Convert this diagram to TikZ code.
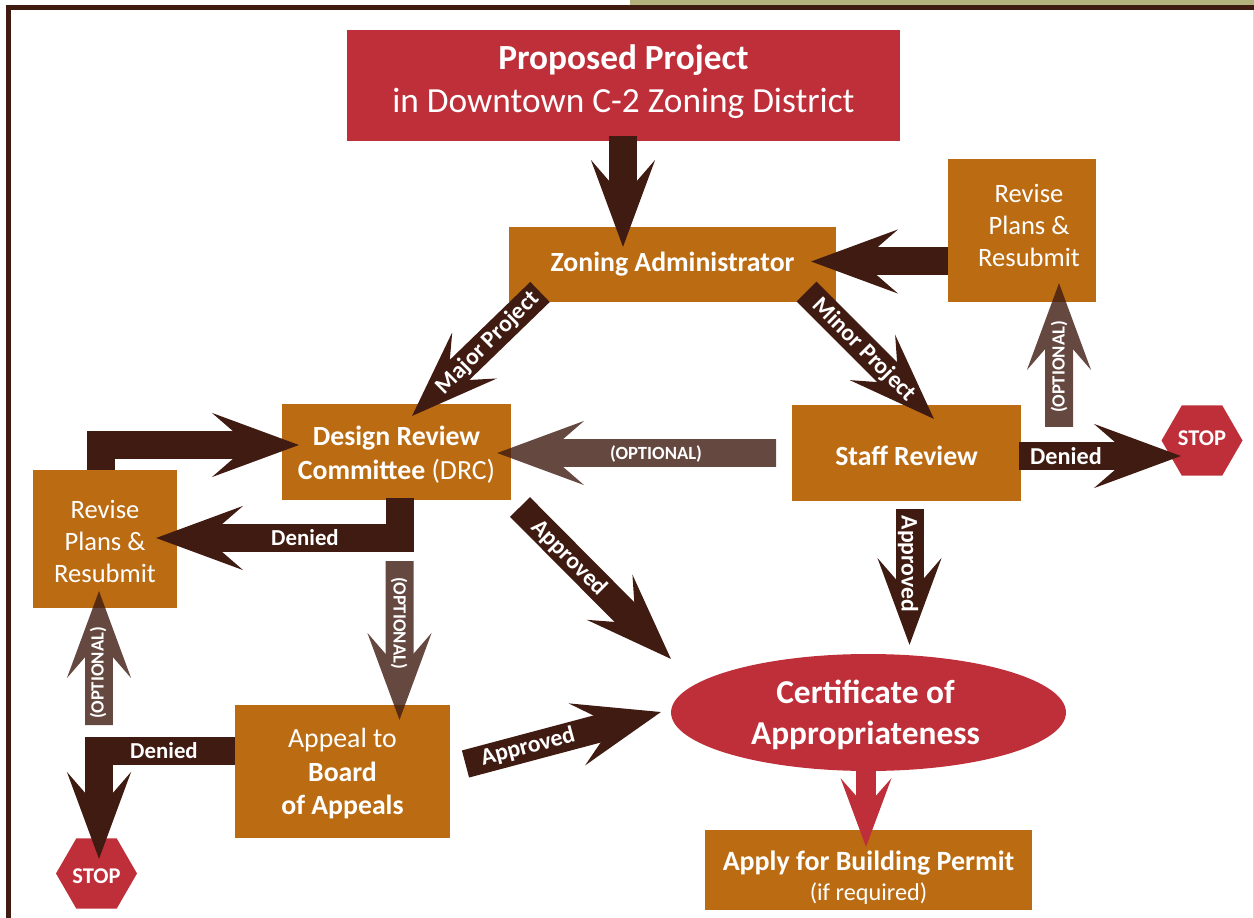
\documentclass[tikz,border=0pt]{standalone}
\usepackage{fontspec}
\setmainfont{Carlito}
\usetikzlibrary{arrows.meta,shapes.geometric}
\definecolor{boxbrown}{HTML}{BB6C13}
\definecolor{stopred}{HTML}{BF2F3A}
\definecolor{arrowdark}{HTML}{3F1B12}
\definecolor{bandolive}{HTML}{B3B37D}
% struts that push the text of a box up or down
\newcommand{\pushdown}[1]{\rule{0pt}{#1}}
\newcommand{\pushup}[1]{\rule[-#1]{0pt}{#1}}
\tikzset{
  box/.style={fill=boxbrown,text=white,align=center,inner sep=0pt,font=\fontsize{15.8}{18.6}\selectfont},
  redbox/.style={box,fill=stopred},
  stopsign/.style={regular polygon,regular polygon sides=6,minimum size=1.62cm,inner sep=0pt,fill=stopred,text=white,font=\fontsize{12.8}{15}\selectfont\bfseries},
  fatarrow/.style={arrowdark,line width=0.56cm,-{Stealth[length=1.72cm,width=1.26cm,inset=0.72cm]}},
  redarrow/.style={stopred,line width=0.4cm,-{Stealth[length=1.36cm,width=1cm,inset=0.56cm]}},
  lbl/.style={text=white,inner sep=0pt,font=\fontsize{13.5}{15}\selectfont\bfseries},
  optlbl/.style={lbl,font=\fontsize{10.6}{12}\selectfont\bfseries},
}
\begin{document}
\begin{tikzpicture}[x=0.02cm,y=-0.02cm]
\useasboundingbox (0,0) rectangle (1254,918);
% frame
\fill [bandolive] (630,0) rectangle (1254,5);
\fill [arrowdark] (6,5) rectangle (1254,10);
\fill [arrowdark] (6,5) rectangle (11,918);
\fill [black!15] (1253,10) rectangle (1254,918);
% boxes
\node [redbox,minimum width=11.08cm,minimum height=2.22cm,font=\fontsize{20.1}{24.4}\selectfont] (proposed) at (623.5,85.5) {\textbf{Proposed Project}\\in Downtown C-2 Zoning District\pushup{8pt}};
\node [box,minimum width=6.54cm,minimum height=1.5cm] (zoning) at (672.5,264.5) {\textbf{Zoning Administrator}};
\node [box,minimum width=2.96cm,minimum height=2.86cm,font=\fontsize{15.1}{18.2}\selectfont] (reviseR) at (1022,230.5) {\hspace*{.28cm}Revise\\\hspace*{.28cm}Plans \&\\\hspace*{.28cm}Resubmit\pushup{5.7pt}};
\node [box,minimum width=4.58cm,minimum height=1.92cm] (staff) at (906.5,453) {\pushdown{14.6pt}\textbf{Staff Review}};
\node [box,minimum width=4.58cm,minimum height=1.92cm,font=\fontsize{15.8}{19.3}\selectfont] (drc) at (396.5,452) {\pushdown{13.7pt}\textbf{Design Review}\\\textbf{Committee} (DRC)};
\node [box,minimum width=2.88cm,minimum height=2.76cm,font=\fontsize{15.1}{18.2}\selectfont] (reviseL) at (105,539) {\pushdown{13.2pt}Revise\\Plans \&\\Resubmit};
\node [box,minimum width=4.3cm,minimum height=2.66cm,font=\fontsize{15.8}{19}\selectfont] (appeal) at (342.5,771.5) {\pushdown{13.7pt}Appeal to\\\textbf{Board}\\\textbf{of Appeals}};
\node [box,minimum width=6.54cm,minimum height=1.6cm,font=\fontsize{15.9}{17}\selectfont] (permit) at (868.5,870) {\pushdown{19.5pt}\textbf{Apply for Building Permit}\\{\fontsize{13.8}{17}\selectfont (if required)}};
\node [ellipse,fill=stopred,text=white,align=center,inner sep=0pt,minimum width=7.9cm,minimum height=2.34cm,font=\fontsize{19}{23.2}\selectfont\bfseries] (cert) at (868.5,712.5) {\pushdown{16pt}Certificate of\hspace*{.12cm}\\Appropriateness\hspace*{.12cm}};
\node [stopsign] (stopR) at (1202,440.5) {STOP\pushup{2.3pt}};
\node [stopsign] (stopL) at (96.5,873.5) {\pushdown{11.6pt}STOP};
% arrow ends
\coordinate (tipZoningTop) at (623,247);
\coordinate (tipZoningRight) at (811,261.5);
\coordinate (tipDrcLeft) at (299,445);
\coordinate (tipDrcRight) at (497,453);
\coordinate (tipReviseL) at (156,538);
\coordinate (tipReviseLup) at (99,591);
\coordinate (tipReviseRup) at (1059,283);
\coordinate (tipMajor) at (412,416);
\coordinate (tipMinor) at (934,419);
\coordinate (tipStopR) at (1181,456);
\coordinate (tipStopL) at (99,859);
\coordinate (tipAppeal) at (399.5,720);
\coordinate (tipCertDrc) at (671,659);
\coordinate (tipCertStaff) at (909.5,645);
\coordinate (tipCertAppeal) at (661,712);
\coordinate (tipPermit) at (866,847);
\coordinate (startMajor) at (540,292);
\coordinate (startMinor) at (806.5,291.5);
\coordinate (startOptStaff) at (776,453);
\coordinate (startOptReviseR) at (1059,427);
\coordinate (startOptReviseL) at (99,725);
\coordinate (startOptAppeal) at (399.5,561);
\coordinate (startCertDrc) at (520,507);
\coordinate (startCertStaff) at (909.5,509);
\coordinate (startCertAppeal) at (465.5,764);
\coordinate (startDenyDrc) at (400,498);
\coordinate (startReviseL) at (101,470);
\coordinate (startDenyStaff) at (1019,456);
% arrows
\draw [fatarrow] (tipZoningTop |- proposed.south) ++(0,-5) -- (tipZoningTop);
\draw [fatarrow] (reviseR.west |- tipZoningRight) -- (tipZoningRight);
\draw [fatarrow] (startMajor) -- (tipMajor);
\draw [fatarrow] (startMinor) -- (tipMinor);
\draw [fatarrow] (startReviseL) |- (tipDrcLeft);
\draw [fatarrow] (startDenyDrc) |- (tipReviseL);
\draw [fatarrow] (startDenyStaff) -- (tipStopR);
\draw [fatarrow] (appeal.west |- 0,751) -| (tipStopL);
\draw [fatarrow] (startCertDrc) -- (tipCertDrc);
\draw [fatarrow] (startCertStaff) -- (tipCertStaff);
\draw [fatarrow] (startCertAppeal) -- (tipCertAppeal);
\begin{scope}[transparency group,opacity=0.8]
\draw [fatarrow] (startOptStaff) -- (tipDrcRight);
\draw [fatarrow] (startOptReviseR) -- (tipReviseRup);
\draw [fatarrow] (startOptReviseL) -- (tipReviseLup);
\draw [fatarrow] (startOptAppeal) -- (tipAppeal);
\end{scope}
\draw [redarrow] (tipPermit |- cert.south) -- (tipPermit);
% labels
\node [lbl,rotate=45] (lblMajor) at (488,343) {Major Project};
\node [lbl,rotate=-45] (lblMinor) at (864,350) {Minor Project};
\node [lbl,font=\fontsize{13}{15}\selectfont\bfseries] (lblDenyDrc) at (305,538) {Denied};
\node [lbl,font=\fontsize{13.8}{15}\selectfont\bfseries] (lblDenyStaff) at (1066,456) {Denied};
\node [lbl,font=\fontsize{13}{15}\selectfont\bfseries] (lblDenyAppeal) at (164,751) {Denied};
\node [lbl,rotate=-45] (lblAppDrc) at (569,558) {Approved};
\node [lbl,rotate=-90] (lblAppStaff) at (908,564) {Approved};
\node [lbl,rotate=15] (lblAppAppeal) at (528,747) {Approved};
\node [optlbl] (lblOptStaff) at (656,454) {(OPTIONAL)};
\node [optlbl,rotate=90] (lblOptReviseR) at (1059,367) {(OPTIONAL)};
\node [optlbl,rotate=90] (lblOptReviseL) at (98,673) {(OPTIONAL)};
\node [optlbl,rotate=-90] (lblOptAppeal) at (399,623) {(OPTIONAL)};
\end{tikzpicture}
\end{document}
